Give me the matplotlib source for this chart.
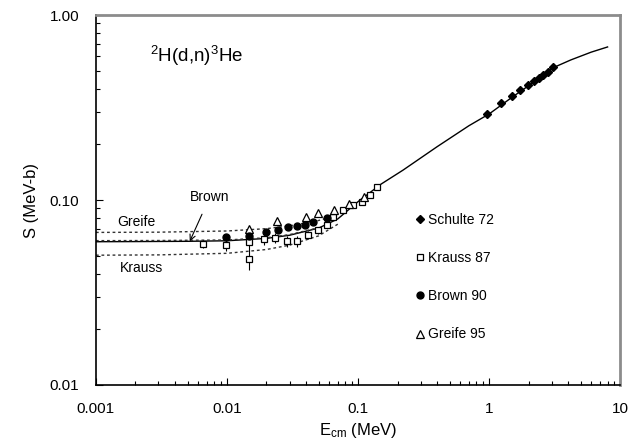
import matplotlib
matplotlib.use('Agg')
import matplotlib.pyplot as plt
from matplotlib.ticker import LogLocator, FixedLocator, NullFormatter

plt.rcParams['font.family'] = ['Liberation Sans', 'DejaVu Sans']
plt.rcParams['mathtext.fontset'] = 'custom'
plt.rcParams['mathtext.rm'] = 'Liberation Sans'
plt.rcParams['mathtext.it'] = 'Liberation Sans:italic'

# S-factor fit (solid)
fit_e = [0.001, 0.002, 0.005, 0.01, 0.02, 0.03, 0.05, 0.07, 0.1, 0.15, 0.22,
         0.4, 0.7, 1.0, 1.5, 2.0, 3.0, 4.2, 6.0, 8.0]
fit_s = [0.0595, 0.0596, 0.0598, 0.0602, 0.0620, 0.0645, 0.0705, 0.0790, 0.098,
         0.122, 0.145, 0.194, 0.252, 0.292, 0.36, 0.415, 0.515, 0.572, 0.63, 0.672]

# low-energy fits of the individual data sets (dotted)
greife_fit_e = [0.001, 0.003, 0.01, 0.02, 0.03, 0.05, 0.07]
greife_fit_s = [0.0668, 0.0670, 0.0680, 0.0700, 0.0725, 0.0775, 0.0830]
brown_fit_e = [0.001, 0.003, 0.01, 0.02, 0.03, 0.05]
brown_fit_s = [0.0603, 0.0604, 0.0608, 0.0625, 0.0650, 0.0708]
krauss_fit_e = [0.001, 0.003, 0.01, 0.02, 0.03, 0.05, 0.07]
krauss_fit_s = [0.0503, 0.0505, 0.0515, 0.0540, 0.0570, 0.0640, 0.0740]

# Schulte 72
schulte_e = [0.96, 1.235, 1.49, 1.72, 1.97, 2.21, 2.39, 2.59, 2.79, 3.07]
schulte_s = [0.291, 0.333, 0.365, 0.393, 0.418, 0.441, 0.458, 0.474, 0.494, 0.526]

# Krauss 87
krauss_e = [0.00654, 0.0098, 0.0147, 0.0147, 0.0192, 0.0232, 0.0286, 0.0343, 0.0415,
            0.0495, 0.0578, 0.0643, 0.0771, 0.0915, 0.107, 0.123, 0.139]
krauss_s = [0.0578, 0.0571, 0.0592, 0.0479, 0.0614, 0.0622, 0.0599, 0.0599, 0.0646,
            0.0688, 0.0735, 0.0809, 0.0883, 0.094, 0.0976, 0.1065, 0.1175]
krauss_err = [0.003, 0.004, 0.006, 0.006, 0.004, 0.004, 0.004, 0.004, 0.003,
              0.003, 0.003, 0.002, 0.002, 0.002, 0.002, 0.002, 0.002]

# Brown 90
brown_e = [0.0098, 0.0147, 0.0198, 0.0245, 0.0292, 0.0344, 0.0393, 0.045, 0.0578]
brown_s = [0.0631, 0.064, 0.0672, 0.0688, 0.0714, 0.0723, 0.0732, 0.076, 0.080]

# Greife 95
greife_e = [0.0147, 0.024, 0.040, 0.0494, 0.066, 0.085, 0.11]
greife_s = [0.0696, 0.077, 0.0812, 0.0851, 0.088, 0.095, 0.104]

fig = plt.figure(figsize=(6.31, 4.42), dpi=100)
ax = fig.add_axes([0.152, 0.129, 0.831, 0.837])

ax.plot(fit_e, fit_s, color='black', lw=1.0, zorder=2)
ax.plot(greife_fit_e, greife_fit_s, color='#333333', lw=1.0, ls=(0, (2, 2)), zorder=2)
ax.plot(brown_fit_e, brown_fit_s, color='#333333', lw=1.0, ls=(0, (2, 2)), zorder=2)
ax.plot(krauss_fit_e, krauss_fit_s, color='#333333', lw=1.0, ls=(0, (2, 2)), zorder=2)

ax.errorbar(krauss_e, krauss_s, yerr=krauss_err, fmt='none', ecolor='black',
            elinewidth=0.8, capsize=0, zorder=3)
ax.plot(schulte_e, schulte_s, 'D', color='black', ms=4.5, ls='none',
        label='Schulte 72', zorder=4)
ax.plot(krauss_e, krauss_s, 's', mfc='white', mec='black', mew=0.9, ms=5,
        ls='none', label='Krauss 87', zorder=4)
ax.plot(brown_e, brown_s, 'o', color='black', ms=5, ls='none',
        label='Brown 90', zorder=5)
ax.plot(greife_e, greife_s, '^', mfc='white', mec='black', mew=0.9, ms=5.5,
        ls='none', label='Greife 95', zorder=4)

ax.set_xscale('log')
ax.set_yscale('log')
ax.set_xlim(0.001, 10)
ax.set_ylim(0.01, 1.0)

ax.xaxis.set_major_locator(FixedLocator([0.001, 0.01, 0.1, 1, 10]))
ax.set_xticklabels(['0.001', '0.01', '0.1', '1', '10'])
ax.yaxis.set_major_locator(FixedLocator([0.01, 0.1, 1.0]))
ax.set_yticklabels(['0.01', '0.10', '1.00'])
ax.xaxis.set_minor_locator(LogLocator(base=10, subs=range(2, 10)))
ax.yaxis.set_minor_locator(LogLocator(base=10, subs=range(2, 10)))
ax.xaxis.set_minor_formatter(NullFormatter())
ax.yaxis.set_minor_formatter(NullFormatter())
ax.tick_params(which='both', direction='in', labelsize=11, width=0.8)
ax.tick_params(which='major', length=5, pad=12)
ax.tick_params(which='minor', length=3)

for side in ['left', 'bottom']:
    ax.spines[side].set_color('black')
    ax.spines[side].set_linewidth(1.2)
for side in ['top', 'right']:
    ax.spines[side].set_color('#8c8c8c')
    ax.spines[side].set_linewidth(2)

ax.set_xlabel(r'E$_{\mathrm{cm}}$ (MeV)', fontsize=12, labelpad=4)
ax.set_ylabel('S (MeV-b)', fontsize=12, labelpad=8)

ax.text(0.103, 0.89, r'$^{2}$H(d,n)$^{3}$He', transform=ax.transAxes, fontsize=13.5,
        va='center', ha='left')

ax.text(0.00202, 0.0765, 'Greife', fontsize=10, ha='center', va='center')
ax.text(0.00221, 0.0429, 'Krauss', fontsize=10, ha='center', va='center')
ax.annotate('Brown', xy=(0.0052, 0.0598), xytext=(0.0074, 0.104),
            fontsize=10, ha='center', va='center',
            arrowprops=dict(arrowstyle='->', color='black', lw=0.8,
                            shrinkA=6, shrinkB=0))

ax.legend(loc='upper left', bbox_to_anchor=(0.585, 0.50), frameon=False,
          fontsize=10, labelspacing=1.75, handlelength=0.7, handletextpad=0.2,
          markerscale=1.0)

plt.savefig('out.png', dpi=100)
